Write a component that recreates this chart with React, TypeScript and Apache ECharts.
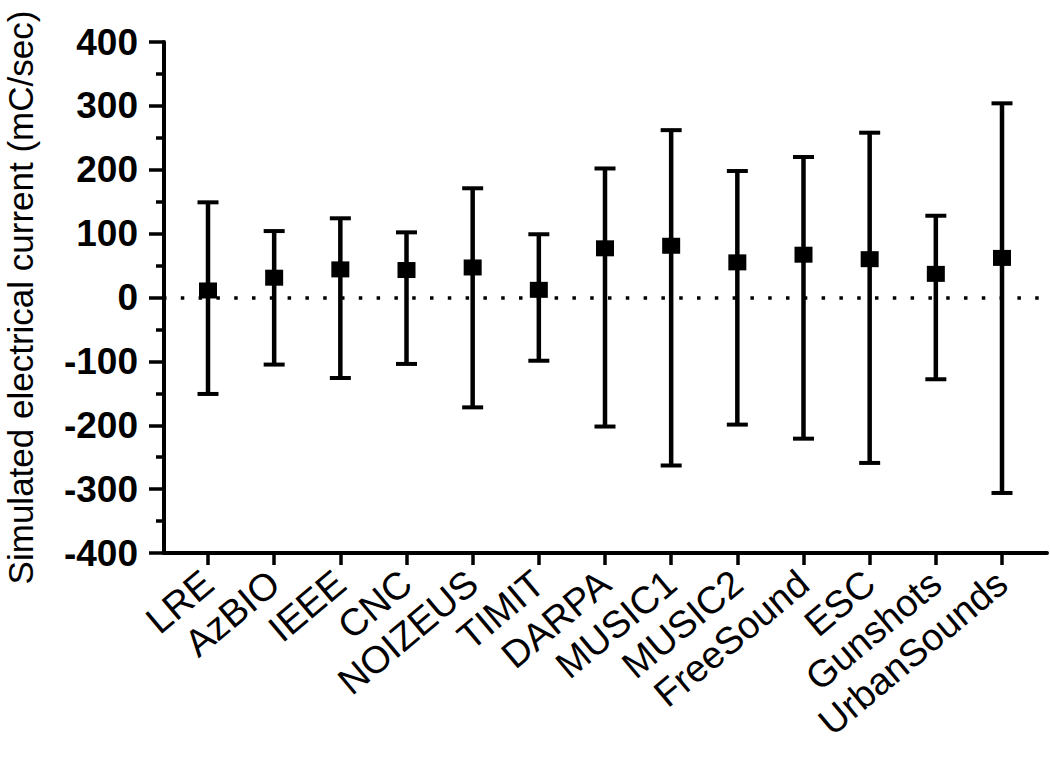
import React, { useEffect, useRef } from "react";
import * as echarts from "echarts";

const categories = [
  "LRE", "AzBIO", "IEEE", "CNC", "NOIZEUS", "TIMIT", "DARPA",
  "MUSIC1", "MUSIC2", "FreeSound", "ESC", "Gunshots", "UrbanSounds",
];
const means = [11, 31, 44, 43, 47, 12, 77, 81, 55, 67, 60, 37, 62];
const highs = [149, 104, 124, 102, 171, 99, 202, 262, 198, 220, 258, 128, 304];
const lows = [-151, -105, -126, -104, -172, -99, -202, -263, -199, -221, -259, -128, -306];
const yTicks = { min: -400, max: 400, interval: 100 };
const yTitle = "Simulated electrical current (mC/sec)";

const FONT = "'Liberation Sans', Arial, Helvetica, sans-serif";

export default function App() {
  const ref = useRef<HTMLDivElement>(null);
  useEffect(() => {
    document.body.style.margin = "0";
    if (!ref.current) return;
    const chart = echarts.init(ref.current, undefined, { renderer: "svg" });
    const top = 42;
    const bottom = 211;
    const option: any = {
      animation: false,
      backgroundColor: "#ffffff",
      grid: [
        { left: 164, right: 3, top, bottom, outerBoundsMode: "none", containLabel: false },
        { left: 208, right: 48, top, bottom, outerBoundsMode: "none", containLabel: false },
      ],
      xAxis: [
        {
          gridIndex: 0,
          type: "value",
          min: 0,
          max: 1,
          axisLine: { show: true, onZero: false, lineStyle: { color: "#000", width: 4 } },
          axisTick: { show: false },
          axisLabel: { show: false },
          splitLine: { show: false },
        },
        {
          gridIndex: 1,
          type: "category",
          data: categories,
          boundaryGap: false,
          axisLine: { show: false, onZero: false },
          axisTick: { show: true, length: 12, lineStyle: { color: "#000", width: 3.5 } },
          axisLabel: {
            rotate: 40,
            interval: 0,
            margin: 25,
            fontSize: 38,
            color: "#000",
            fontFamily: FONT,
          },
          splitLine: { show: false },
        },
      ],
      yAxis: [
        {
          gridIndex: 0,
          type: "value",
          min: yTicks.min,
          max: yTicks.max,
          interval: yTicks.interval,
          name: yTitle,
          nameLocation: "middle",
          nameGap: 126,
          nameTextStyle: { fontSize: 35, color: "#000", fontFamily: FONT },
          axisLine: { show: true, lineStyle: { color: "#000", width: 4 } },
          axisTick: { show: true, length: 15, lineStyle: { color: "#000", width: 3.5 } },
          minorTick: { show: true, splitNumber: 2, length: 8, lineStyle: { color: "#000", width: 3.5 } },
          axisLabel: {
            margin: 26,
            fontSize: 37,
            fontWeight: "bold",
            color: "#000",
            fontFamily: FONT,
          },
          splitLine: { show: false },
        },
        {
          gridIndex: 1,
          type: "value",
          min: yTicks.min,
          max: yTicks.max,
          show: false,
          splitLine: { show: false },
        },
      ],
      series: [
        {
          type: "line",
          xAxisIndex: 0,
          yAxisIndex: 0,
          data: [],
          silent: true,
          markLine: {
            silent: true,
            symbol: ["none", "none"],
            label: { show: false },
            lineStyle: { color: "#000", width: 3.5, type: [3.5, 14.3], dashOffset: 0.8, opacity: 1 },
            data: [{ yAxis: 0 }],
          },
        },
        {
          type: "custom",
          xAxisIndex: 1,
          yAxisIndex: 1,
          data: categories.map((_, i) => [i, lows[i], highs[i]]),
          renderItem: (params: any, api: any) => {
            const x = api.value(0);
            const lo = api.coord([x, api.value(1)]);
            const hi = api.coord([x, api.value(2)]);
            const half = 10.5;
            const style = { stroke: "#000", lineWidth: 4.5 };
            const capStyle = { stroke: "#000", lineWidth: 4 };
            return {
              type: "group",
              children: [
                { type: "line", shape: { x1: hi[0], y1: hi[1], x2: lo[0], y2: lo[1] }, style },
                { type: "line", shape: { x1: hi[0] - half, y1: hi[1], x2: hi[0] + half, y2: hi[1] }, style: capStyle },
                { type: "line", shape: { x1: lo[0] - half, y1: lo[1], x2: lo[0] + half, y2: lo[1] }, style: capStyle },
              ],
            };
          },
          z: 3,
        },
        {
          type: "scatter",
          xAxisIndex: 1,
          yAxisIndex: 1,
          data: categories.map((_, i) => [i, means[i]]),
          symbol: "rect",
          symbolSize: [18, 16],
          itemStyle: { color: "#000", opacity: 1 },
          z: 4,
        },
      ],
    };
    chart.setOption(option);
    return () => chart.dispose();
  }, []);
  return <div ref={ref} style={{ width: 1050, height: 764 }} />;
}
